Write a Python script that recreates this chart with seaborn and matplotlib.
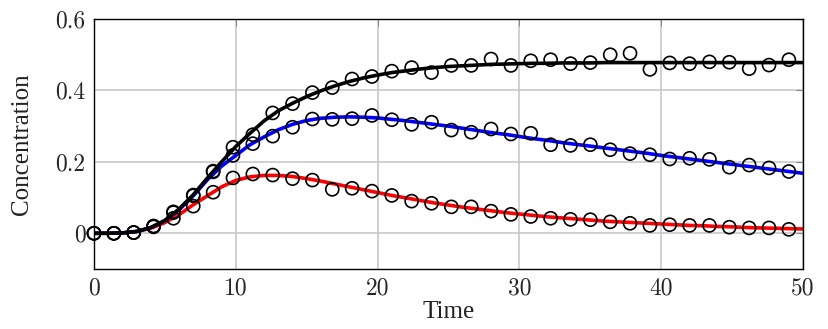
import numpy as np
import matplotlib
matplotlib.use("Agg")
import matplotlib.pyplot as plt
import seaborn as sns

# measured samples (circles)
t_obs = [0.0, 1.4, 2.8, 4.2, 5.6, 7.0, 8.4, 9.8, 11.2, 12.6, 14.0, 15.4,
         16.8, 18.2, 19.6, 21.0, 22.4, 23.8, 25.2, 26.6, 28.0, 29.4, 30.8, 32.2,
         33.6, 35.0, 36.4, 37.8, 39.2, 40.6, 42.0, 43.4, 44.8, 46.2, 47.6, 49.0]
black_obs = [0, 0, 0.002, 0.02, 0.06, 0.107, 0.174, 0.241, 0.276, 0.337, 0.363, 0.394,
             0.408, 0.432, 0.439, 0.454, 0.464, 0.45, 0.47, 0.47, 0.488, 0.47, 0.483, 0.486,
             0.475, 0.478, 0.5, 0.504, 0.459, 0.477, 0.475, 0.48, 0.479, 0.461, 0.471, 0.486]
blue_obs = [0, 0, 0.002, 0.02, 0.058, 0.105, 0.172, 0.218, 0.251, 0.272, 0.297, 0.32,
            0.319, 0.321, 0.33, 0.318, 0.305, 0.311, 0.289, 0.283, 0.292, 0.278, 0.28, 0.248,
            0.246, 0.248, 0.234, 0.223, 0.22, 0.208, 0.21, 0.207, 0.185, 0.191, 0.183, 0.173]
red_obs = [0, 0, 0.002, 0.018, 0.042, 0.076, 0.115, 0.155, 0.166, 0.163, 0.153, 0.149,
           0.123, 0.126, 0.118, 0.106, 0.09, 0.084, 0.074, 0.074, 0.062, 0.053, 0.047, 0.042,
           0.039, 0.038, 0.032, 0.028, 0.022, 0.024, 0.022, 0.022, 0.017, 0.015, 0.015, 0.011]

# fitted model curves, read at t = 0, 1, ..., 50
t_fit = np.arange(0, 51)
black_fit = [0, 0, 0.001, 0.005, 0.016, 0.036, 0.068, 0.108, 0.155, 0.2,
             0.243, 0.28, 0.315, 0.343, 0.364, 0.383, 0.399, 0.413, 0.425, 0.435,
             0.443, 0.45, 0.455, 0.46, 0.464, 0.467, 0.469, 0.471, 0.473, 0.474,
             0.475, 0.476, 0.476, 0.477, 0.477, 0.477, 0.478, 0.478, 0.478, 0.478,
             0.478, 0.478, 0.478, 0.478, 0.478, 0.478, 0.478, 0.478, 0.478, 0.478, 0.478]
blue_fit = [0, 0, 0.001, 0.005, 0.016, 0.035, 0.066, 0.105, 0.15, 0.188,
            0.218, 0.248, 0.27, 0.29, 0.305, 0.316, 0.322, 0.325, 0.326, 0.325,
            0.323, 0.319, 0.315, 0.31, 0.305, 0.3, 0.294, 0.288, 0.282, 0.277,
            0.271, 0.265, 0.26, 0.254, 0.249, 0.244, 0.239, 0.234, 0.229, 0.224,
            0.218, 0.213, 0.208, 0.203, 0.198, 0.193, 0.188, 0.183, 0.178, 0.173, 0.168]
red_fit = [0, 0, 0.001, 0.005, 0.014, 0.03, 0.052, 0.08, 0.105, 0.13,
           0.148, 0.158, 0.162, 0.162, 0.159, 0.153, 0.146, 0.138, 0.13, 0.122,
           0.114, 0.106, 0.099, 0.092, 0.085, 0.079, 0.073, 0.068, 0.063, 0.058,
           0.054, 0.05, 0.046, 0.043, 0.04, 0.037, 0.034, 0.032, 0.03, 0.028,
           0.026, 0.024, 0.022, 0.021, 0.019, 0.018, 0.016, 0.015, 0.014, 0.013, 0.012]

x_ticks = [0, 10, 20, 30, 40, 50]
y_ticks = [0, 0.2, 0.4, 0.6]
y_tick_labels = ["0", "0.2", "0.4", "0.6"]

sns.set_theme(style="white")
plt.rcParams["font.family"] = ["cmr10"]
plt.rcParams["axes.formatter.use_mathtext"] = True

fig = plt.figure(figsize=(8.29, 3.29), dpi=100)
ax = fig.add_axes([0.1134, 0.1824, 0.8553, 0.7598])

for yv, col in [(red_fit, "#ff0000"), (blue_fit, "#0000ff"), (black_fit, "black")]:
    sns.lineplot(x=t_fit, y=yv, color=col, lw=2.6, ax=ax, zorder=2)

for yv in [red_obs, blue_obs, black_obs]:
    sns.scatterplot(x=t_obs, y=yv, marker="o", s=88, facecolor="none",
                    edgecolor="black", linewidth=1.2, ax=ax, zorder=3, clip_on=False)

ax.set_xlim(0, 50)
ax.set_ylim(-0.1, 0.6)
ax.set_xticks(x_ticks)
ax.set_xticklabels([str(v) for v in x_ticks])
ax.set_yticks(y_ticks)
ax.set_yticklabels(y_tick_labels)
ax.grid(True, color="#c4c4c4", lw=1.1)
ax.set_axisbelow(True)
ax.tick_params(direction="in", length=5, width=0.8, color="#888888",
               top=True, right=True, labelsize=17, pad=6)
for sp in ax.spines.values():
    sp.set_color("black")
    sp.set_linewidth(1.0)

ax.set_xlabel("Time", fontfamily="Liberation Serif", fontsize=18, labelpad=1, color="#222222")
ax.set_ylabel("Concentration", fontfamily="Liberation Serif", fontsize=18, labelpad=16, color="#222222")

fig.savefig("out.png", dpi=100)
